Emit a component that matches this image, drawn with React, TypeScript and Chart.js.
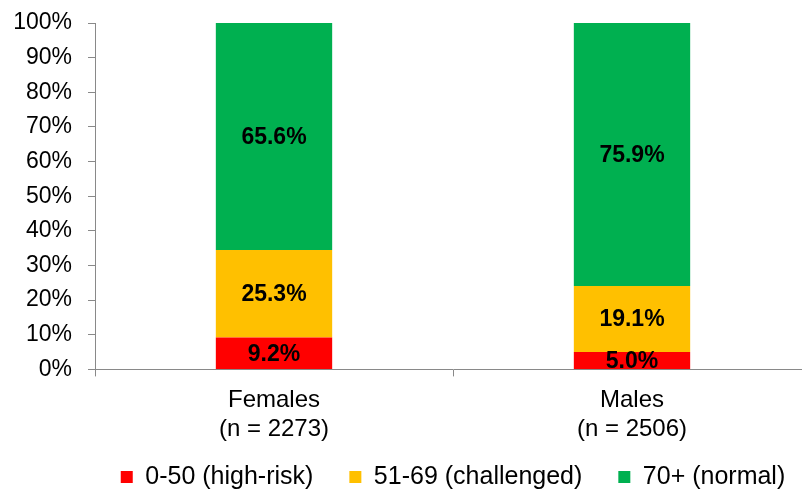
import React, { useEffect, useRef } from "react";
import { Chart, registerables } from "chart.js";

Chart.register(...registerables);

const categories = [
  ["Females", "(n = 2273)"],
  ["Males", "(n = 2506)"],
];
const seriesNames = ["0-50 (high-risk)", "51-69 (challenged)", "70+ (normal)"];
const highRisk = [9.2, 5.0];
const challenged = [25.3, 19.1];
const normal = [65.6, 75.9];
const seriesColors = ["#FF0000", "#FFC000", "#00B050"];
const yTicks = [0, 10, 20, 30, 40, 50, 60, 70, 80, 90, 100];

const FONT = "'Liberation Sans', Arial, Helvetica, sans-serif";
const AXIS_COLOR = "#898989";

export default function App() {
  const ref = useRef<HTMLCanvasElement>(null);

  useEffect(() => {
    if (!ref.current) return;
    const labelPlugin = {
      id: "segLabels",
      afterDatasetsDraw(chart: any) {
        const ctx = chart.ctx;
        ctx.save();
        ctx.font = `bold 23px ${FONT}`;
        ctx.fillStyle = "#000";
        ctx.textAlign = "center";
        ctx.textBaseline = "middle";
        chart.data.datasets.forEach((ds: any, i: number) => {
          const meta = chart.getDatasetMeta(i);
          meta.data.forEach((el: any, j: number) => {
            const v = ds.data[j];
            const p = el.getProps(["x", "y", "base"], true);
            ctx.fillText(v.toFixed(1) + "%", p.x, (p.y + p.base) / 2 + 1);
          });
        });
        ctx.restore();
      },
    };

    // place the legend under the plot area, centred on it, closer to the axis labels
    const legendPlace = {
      id: "legendPlace",
      afterLayout(chart: any) {
        const lg = chart.legend;
        if (!lg) return;
        const h = lg.bottom - lg.top;
        lg.left = chart.chartArea.left - 20;
        lg.right = chart.chartArea.right + 20;
        lg.width = lg.right - lg.left;
        lg.top = chart.chartArea.bottom + 59;
        lg.bottom = lg.top + h;
      },
    };

    const seriesData = [highRisk, challenged, normal];
    const chart = new Chart(ref.current, {
      type: "bar",
      data: {
        labels: categories as any,
        datasets: seriesNames.map((name, i) => ({
          label: name,
          data: seriesData[i],
          backgroundColor: seriesColors[i],
          borderWidth: 0,
          barPercentage: 0.325,
          categoryPercentage: 1,
        })),
      },
      options: {
        responsive: false,
        animation: false,
        devicePixelRatio: 1,
        layout: { padding: { top: 23, right: 9, left: 0, bottom: 0 } },
        scales: {
          x: {
            stacked: true,
            grid: {
              display: true,
              drawOnChartArea: false,
              drawTicks: true,
              tickLength: 7,
              color: AXIS_COLOR,
              offset: true,
            },
            border: { color: AXIS_COLOR, width: 1 },
            ticks: {
              color: "#000",
              font: { family: FONT, size: 24 },
              padding: 10,
              maxRotation: 0,
              autoSkip: false,
            },
          },
          y: {
            stacked: true,
            min: 0,
            max: 100,
            grid: {
              display: true,
              drawOnChartArea: false,
              drawTicks: true,
              tickLength: 7,
              color: AXIS_COLOR,
            },
            border: { color: AXIS_COLOR, width: 1 },
            ticks: {
              color: "#000",
              font: { family: FONT, size: 23 },
              padding: 16,
              autoSkip: false,
              callback: (v: any) => v + "%",
            },
            afterBuildTicks: (s: any) => {
              s.ticks = yTicks.map((v) => ({ value: v }));
            },
            afterFit: (s: any) => {
              s.width = 95;
              s.paddingTop = 10;
              s.paddingBottom = 10;
            },
          },
        },
        plugins: {
          legend: {
            position: "bottom",
            labels: {
              boxWidth: 12,
              boxHeight: 12,
              padding: 36,
              color: "#000",
              font: { family: FONT, size: 25 },
            },
          },
          tooltip: { enabled: false },
        },
      } as any,
      plugins: [labelPlugin, legendPlace],
    });
    return () => chart.destroy();
  }, []);

  return (
    <div
      style={{
        position: "absolute",
        left: 0,
        top: 0,
        width: 802,
        height: 489,
        overflow: "hidden",
        background: "#fff",
      }}
    >
      <canvas ref={ref} width={820} height={525} style={{ display: "block" }} />
    </div>
  );
}
